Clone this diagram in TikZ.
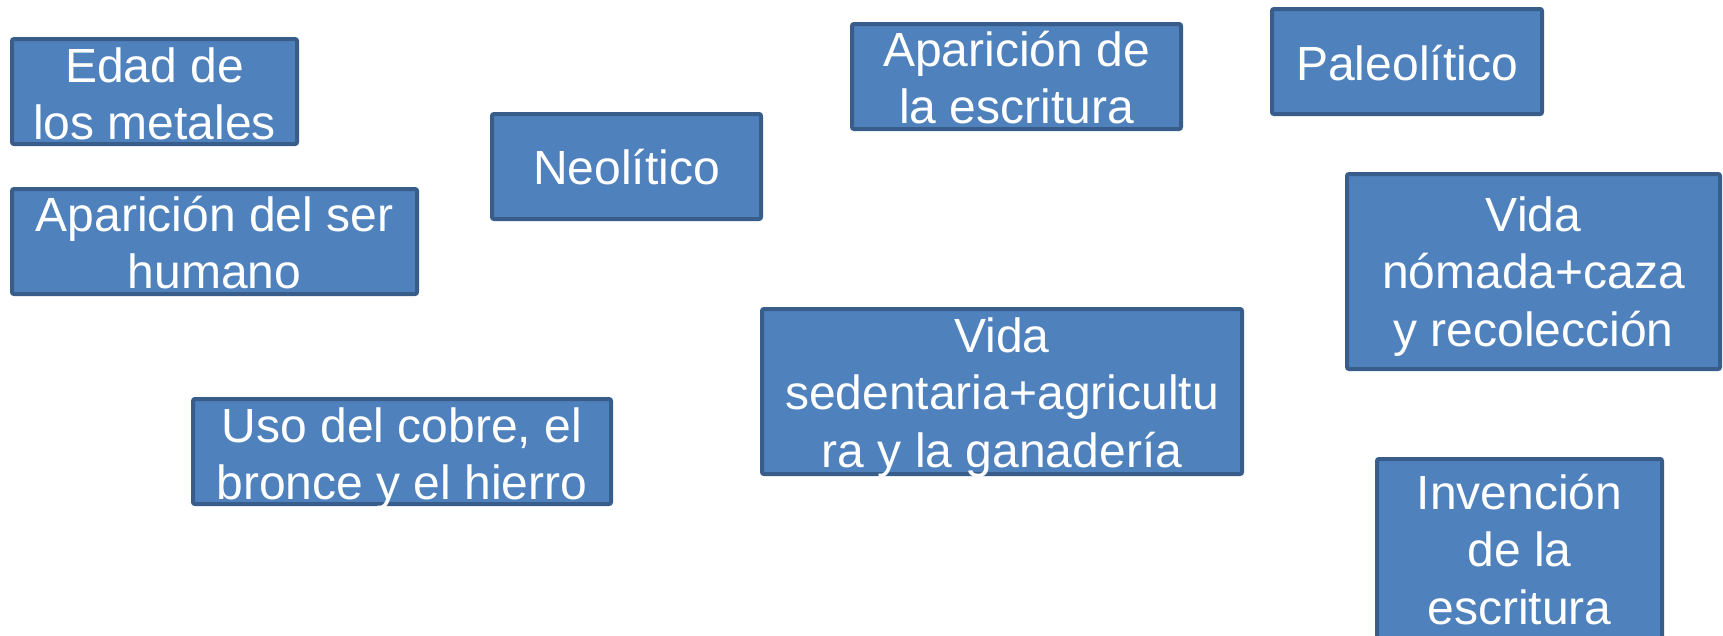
\documentclass[tikz,border=0pt]{standalone}
\usepackage{fontspec}
\setmainfont{Liberation Sans}
\definecolor{boxfill}{HTML}{4F81BD}
\definecolor{boxline}{HTML}{385D8A}
\begin{document}
\begin{tikzpicture}[x=1pt,y=-1pt,
  box/.style={draw=boxline, fill=boxfill, line width=4pt, rounded corners=2pt, inner sep=0pt},
  lbl/.style={text=white, align=center, inner sep=0pt, font=\fontsize{48}{57.5}\selectfont}]
\useasboundingbox (0,0) rectangle (1723,635);
\clip (0,0) rectangle (1723,635);
% boxes
\node[box, minimum width=285pt, minimum height=105pt] (b1) at (154.5,91.5) {};
\node[box, minimum width=405pt, minimum height=105pt] (b2) at (214.5,241.5) {};
\node[box, minimum width=269pt, minimum height=105pt] (b3) at (626.5,166.5) {};
\node[box, minimum width=329pt, minimum height=105pt] (b4) at (1016.5,76.5) {};
\node[box, minimum width=270pt, minimum height=105pt] (b5) at (1407,61.5) {};
\node[box, minimum width=373pt, minimum height=195pt] (b6) at (1533.5,271.5) {};
\node[box, minimum width=480pt, minimum height=165pt] (b7) at (1002,391.5) {};
\node[box, minimum width=418pt, minimum height=105pt] (b8) at (402,451.5) {};
\node[box, minimum width=285pt, minimum height=195pt] (b9) at (1519.5,556.5) {};
% labels
\node[lbl] (t1) at (154.5,99.6) {\strut Edad de\\\strut los metales};
\node[lbl] (t2) at (214.5,248.6) {\strut Aparición del ser\\\strut humano};
\node[lbl] (t3) at (626.5,173.4) {\strut Neolítico};
\node[lbl] (t4) at (1016.5,83.6) {\strut Aparición de\\\strut la escritura};
\node[lbl] (t5) at (1407,69.1) {\strut Paleolítico};
\node[lbl] (t6) at (1533.5,277.1) {\strut Vida\\\strut nómada+caza\\\strut y recolección};
\node[lbl] (t7) at (1002,398.1) {\strut Vida\\\strut sedentaria+agricultu\\\strut ra y la ganadería};
\node[lbl] (t8) at (402,459.3) {\strut Uso del cobre, el\\\strut bronce y el hierro};
\node[lbl] (t9) at (1519.5,555.4) {\strut Invención\\\strut de la\\\strut escritura};
\end{tikzpicture}
\end{document}
